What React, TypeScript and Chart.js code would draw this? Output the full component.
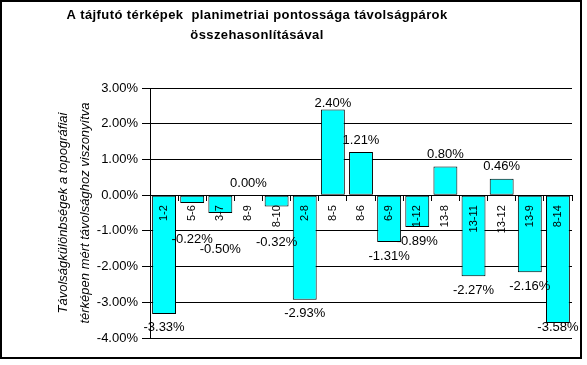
import React, { useEffect, useRef } from "react";
import { Chart, registerables } from "chart.js";

Chart.register(...registerables);

const titleLines = [
  "A tájfutó térképek  planimetriai pontossága távolságpárok",
  "összehasonlításával",
];
const yAxisTitle = [
  "Távolságkülönbségek a topográfiai",
  "térképen mért távolsághoz viszonyítva",
];
const categories = [
  "1-2", "5-6", "3-7", "8-9", "8-10", "2-8", "8-5", "8-6",
  "6-9", "1-12", "13-8", "13-11", "13-12", "13-9", "8-14",
];
const values = [
  -3.33, -0.22, -0.5, 0.0, -0.32, -2.93, 2.4, 1.21,
  -1.31, -0.89, 0.8, -2.27, 0.46, -2.16, -3.58,
];
const yMin = -4;
const yMax = 3;
const yStep = 1;

const FONT = "'Liberation Sans', Arial, sans-serif";
const fmt = (v: number) => v.toFixed(2) + "%";

const framePlugin = {
  id: "frameAndTitle",
  afterDraw(chart: any) {
    const ctx = chart.ctx;
    ctx.save();
    ctx.strokeStyle = "#000";
    ctx.lineWidth = 2;
    ctx.strokeRect(1, 1, 580, 357);
    ctx.fillStyle = "#000";
    ctx.font = `bold 13px ${FONT}`;
    (ctx as any).letterSpacing = "0.4px";
    ctx.textAlign = "center";
    ctx.textBaseline = "middle";
    titleLines.forEach((t, i) => ctx.fillText(t, 257, 15 + i * 20));
    ctx.restore();
  },
};

const valueLabelPlugin = {
  id: "valueLabels",
  afterDraw(chart: any) {
    const ctx = chart.ctx;
    const area = chart.chartArea;
    const meta = chart.getDatasetMeta(0);
    ctx.save();
    ctx.fillStyle = "#000";
    ctx.font = `13px ${FONT}`;
    ctx.textAlign = "center";
    ctx.textBaseline = "middle";
    meta.data.forEach((bar: any, i: number) => {
      const v = values[i];
      let y: number;
      if (v >= 0) {
        y = Math.max(bar.y - 12, area.top + 15);
      } else {
        const h = Math.abs(bar.base - bar.y);
        y = bar.y + (h < 25 ? 36 : 14);
        y = Math.min(y, area.bottom - 11);
      }
      ctx.fillText(fmt(v), bar.x, y);
    });
    ctx.restore();
  },
};

export default function App() {
  const ref = useRef<HTMLCanvasElement | null>(null);
  useEffect(() => {
    if (!ref.current) return;
    const chart = new Chart(ref.current, {
      type: "bar",
      data: {
        labels: categories,
        datasets: [
          {
            data: values,
            backgroundColor: "#00FFFF",
            borderColor: "#000",
            borderWidth: 1,
            borderSkipped: false,
            barPercentage: 0.85,
            categoryPercentage: 1,
          },
        ],
      },
      options: {
        responsive: false,
        animation: false,
        devicePixelRatio: 1,
        layout: { padding: { left: 0, right: 15, top: 88, bottom: 27 } },
        plugins: {
          legend: { display: false },
          tooltip: { enabled: false },
          title: { display: false },
        },
        scales: {
          x: {
            position: { y: 0 } as any,
            offset: true,
            grid: {
              display: true,
              drawOnChartArea: false,
              drawTicks: true,
              tickLength: 5,
              color: "#000",
              offset: true,
              z: 1,
            },
            border: { display: true, color: "#000", width: 1, z: 1 },
            ticks: {
              z: 1,
              autoSkip: false,
              minRotation: 90,
              maxRotation: 90,
              padding: 5,
              color: "#000",
              font: { family: FONT, size: 11 },
            },
          },
          y: {
            min: yMin,
            max: yMax,
            afterFit(scale: any) {
              scale.width = 150;
            },
            ticks: {
              stepSize: yStep,
              padding: 4,
              color: "#000",
              font: { family: FONT, size: 13 },
              callback: (v: any) => fmt(Number(v)),
            },
            grid: {
              color: "#000",
              lineWidth: 1,
              drawTicks: true,
              tickLength: 8,
            },
            border: { display: true, color: "#000", width: 1 },
            title: {
              display: true,
              text: yAxisTitle,
              color: "#000",
              font: { family: FONT, size: 13, style: "italic", lineHeight: 1.7 },
              padding: { top: 52, bottom: 0 },
            },
          },
        },
      },
      plugins: [valueLabelPlugin, framePlugin],
    });
    return () => chart.destroy();
  }, []);
  return (
    <div style={{ position: "absolute", left: 0, top: 0, width: 587, height: 365, background: "#fff" }}>
      <canvas ref={ref} width={587} height={365} />
    </div>
  );
}
